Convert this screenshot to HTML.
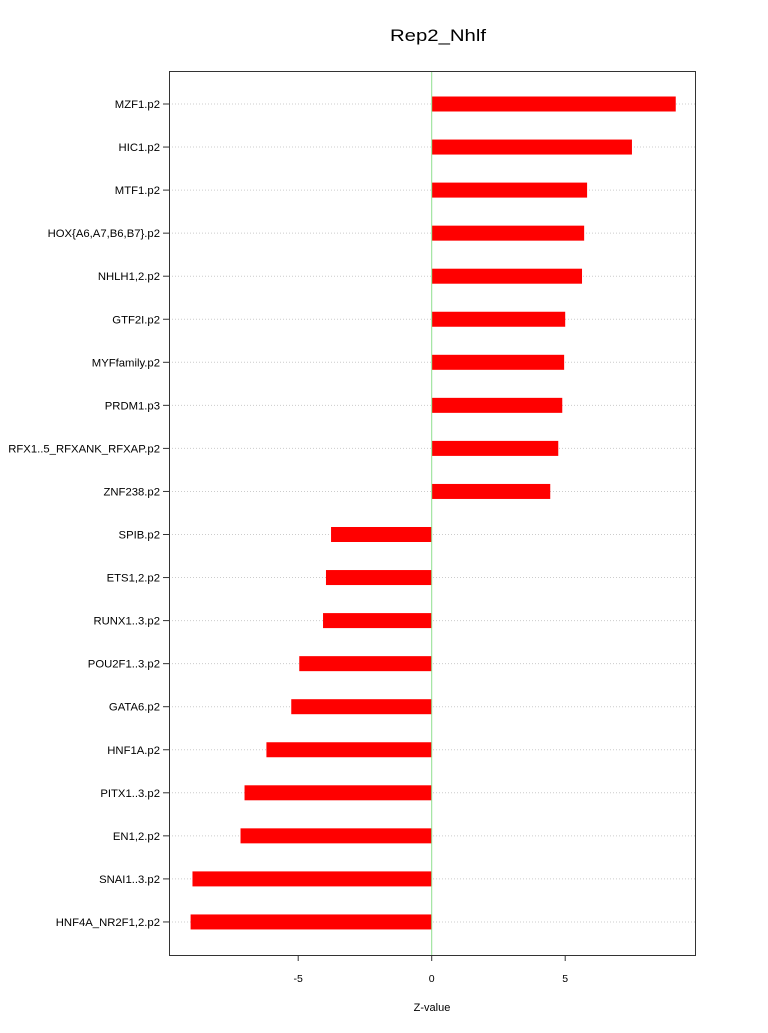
<!DOCTYPE html>
<html><head><meta charset="utf-8"><style>
body{margin:0;background:#fff}
svg text{font-family:"Liberation Sans",sans-serif}
</style></head><body>
<svg id="chart" width="768" height="1028" xmlns="http://www.w3.org/2000/svg">
<rect width="768" height="1028" fill="#fff"/>
<text x="438" y="41" font-size="17" text-anchor="middle" textLength="96" lengthAdjust="spacingAndGlyphs">Rep2_Nhlf</text>
<g id="grid"></g>
<g id="bars"></g>
<line x1="431.7" y1="71" x2="431.7" y2="955" stroke="#8fdf8f" stroke-width="1"/>
<rect x="169.5" y="71.5" width="526" height="884" fill="none" stroke="#333" stroke-width="1"/>
<g id="yaxis"></g>
<g id="xaxis"></g>
<text x="432" y="1011" font-size="11" text-anchor="middle">Z-value</text>
</svg>
<script>
const categories=["MZF1.p2","HIC1.p2","MTF1.p2","HOX{A6,A7,B6,B7}.p2","NHLH1,2.p2","GTF2I.p2","MYFfamily.p2","PRDM1.p3","RFX1..5_RFXANK_RFXAP.p2","ZNF238.p2","SPIB.p2","ETS1,2.p2","RUNX1..3.p2","POU2F1..3.p2","GATA6.p2","HNF1A.p2","PITX1..3.p2","EN1,2.p2","SNAI1..3.p2","HNF4A_NR2F1,2.p2"];
const values=[9.14,7.5,5.82,5.71,5.63,5.0,4.96,4.89,4.74,4.44,-3.77,-3.96,-4.07,-4.96,-5.26,-6.19,-7.01,-7.16,-8.96,-9.03];
const xTicks=[-5,0,5];
const NS="http://www.w3.org/2000/svg";
const xs=v=>431.7+v*26.7;
const ys=i=>104+i*43.05;
function mk(t,a,p){const e=document.createElementNS(NS,t);for(const k in a)e.setAttribute(k,a[k]);p.appendChild(e);return e;}
const grid=document.getElementById('grid'),bars=document.getElementById('bars'),ya=document.getElementById('yaxis'),xa=document.getElementById('xaxis');
categories.forEach((c,i)=>{
 const y=ys(i);
 const g=mk('line',{x1:169,x2:695,y1:y,y2:y,stroke:'#ccc','stroke-dasharray':'1,2'},grid);
 
 
 const v=values[i];
 const r=mk('rect',{x:Math.min(xs(0),xs(v)),y:y-7.5,width:Math.abs(xs(v)-xs(0)),height:15,fill:'#ff0000'},bars);
 
 
 const tk=mk('line',{x1:163,x2:169,y1:y,y2:y,stroke:'#333'},ya);
 
 
 const t=mk('text',{x:160,y:y+4,'font-size':'11.3','text-anchor':'end'},ya);
 t.textContent=c;
 
 
});
xTicks.forEach(v=>{
 const l=mk('line',{x1:xs(v),x2:xs(v),y1:955,y2:961,stroke:'#333'},xa);
 
 
 const t=mk('text',{x:xs(v),y:982,'font-size':'10.5','text-anchor':'middle'},xa);
 t.textContent=v;
 
 
});
</script>
</body></html>
